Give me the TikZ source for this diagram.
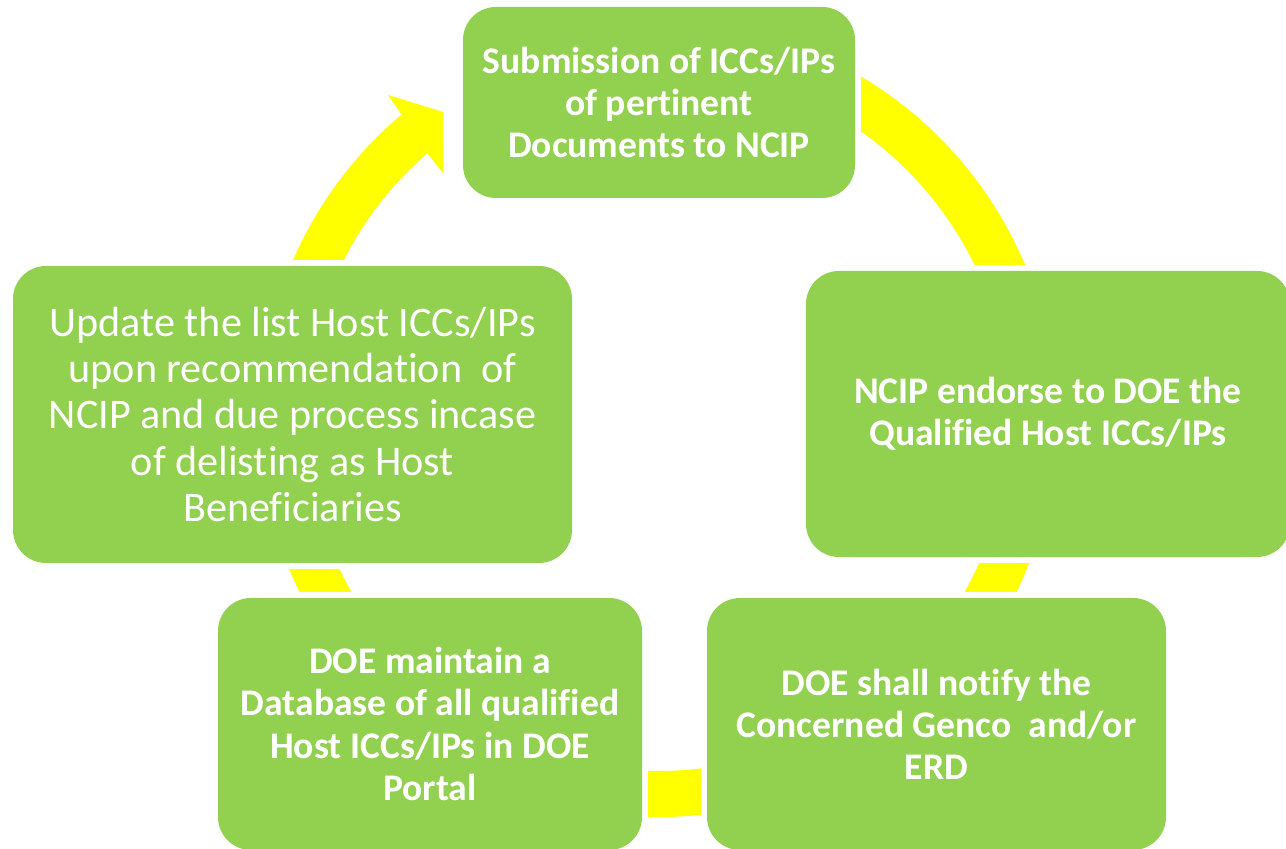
\documentclass[tikz,border=0pt]{standalone}
\usepackage{fontspec}
\setmainfont{Carlito}[Ligatures=NoCommon]
\usepackage{tikz}

\definecolor{leafgreen}{HTML}{92D050}
\definecolor{ringyellow}{HTML}{FFFF00}

\begin{document}
\begin{tikzpicture}[x=0.1mm, y=0.1mm,
  stage/.style={rectangle, rounded corners=3.3mm, fill=leafgreen, text=white, align=center,
    inner sep=0pt, preaction={draw=white, line width=3.4pt}},
  bold stage/.style={stage, font=\fontsize{10.7}{12}\selectfont\bfseries},
  light stage/.style={stage, font=\fontsize{12}{13.2}\selectfont}]
\useasboundingbox (0,0) rectangle (1286,849);
\coordinate (hub) at (658,430);

% the yellow ring with its arrow head
\fill[ringyellow] ([shift={(80:398)}]hub) arc[start angle=80, end angle=-229.9, radius=398]
  -- (388,754) -- (443,737) -- (443,676) -- ([shift={(-229.04:352)}]hub)
  arc[start angle=-229.04, end angle=80, radius=352] -- cycle;

% the five steps
\node[bold stage, minimum width=39.2mm, minimum height=19.1mm] (submit) at (659,746.5)
  {Submission of ICCs/IPs\\of pertinent\\Documents to NCIP};
\node[bold stage, minimum width=48.4mm, minimum height=28.6mm] (endorse) at (1048,435)
  {NCIP endorse to DOE the\\Qualified Host ICCs/IPs};
\node[bold stage, minimum width=45.9mm, minimum height=25.2mm] (notify) at (936.5,125)
  {DOE shall notify the\\Concerned Genco~~and/or\\ERD};
\node[bold stage, minimum width=42.4mm, minimum height=25.2mm] (database) at (430,125)
  {DOE maintain a\\Database of all qualified\\Host ICCs/IPs in DOE\\Portal};
\node[light stage, minimum width=55.9mm, minimum height=29.7mm] (update) at (292.5,434.5)
  {Update the list Host ICCs/IPs\\upon recommendation~~of\\NCIP and due process incase\\of delisting as Host\\Beneficiaries};
\end{tikzpicture}
\end{document}
